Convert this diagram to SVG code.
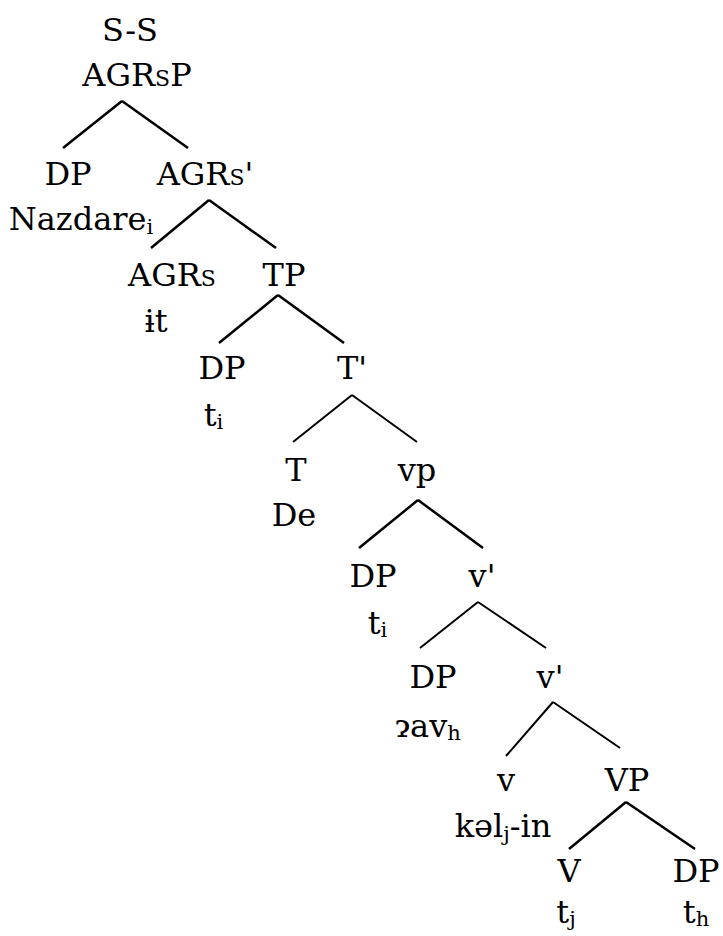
<svg xmlns="http://www.w3.org/2000/svg" width="723" height="936" viewBox="0 0 723 936">
<style>
  .lbl text { font-family: "DejaVu Serif", "Liberation Serif", serif; font-size: 32px; fill: #000; text-anchor: middle; }
  .sc { font-variant: small-caps; }
  .sub { font-size: 21px; }
  line { stroke: #000; stroke-linecap: butt; }
  .thick { stroke-width: 2.5; }
  .thin { stroke-width: 2; }
</style>
<rect width="723" height="936" fill="#fff"/>
<g id="connectors">
  <line class="thick" x1="122" y1="101" x2="63" y2="148"/>
  <line class="thick" x1="122" y1="101" x2="188" y2="148"/>
  <line class="thick" x1="209" y1="200" x2="151" y2="248"/>
  <line class="thick" x1="209" y1="200" x2="276" y2="248"/>
  <line class="thick" x1="278" y1="295" x2="219" y2="343"/>
  <line class="thick" x1="278" y1="295" x2="344" y2="343"/>
  <line class="thin" x1="352" y1="395" x2="293" y2="442"/>
  <line class="thin" x1="352" y1="395" x2="417" y2="442"/>
  <line class="thick" x1="418" y1="500" x2="359" y2="548"/>
  <line class="thick" x1="418" y1="500" x2="483" y2="548"/>
  <line class="thin" x1="478" y1="602" x2="420" y2="648"/>
  <line class="thin" x1="478" y1="602" x2="546" y2="648"/>
  <line class="thin" x1="553" y1="702" x2="506" y2="756"/>
  <line class="thin" x1="553" y1="702" x2="620" y2="748"/>
  <line class="thick" x1="626" y1="802" x2="569" y2="849"/>
  <line class="thick" x1="626" y1="802" x2="695" y2="849"/>
</g>
<g class="lbl">
  <g id="n-root"><text x="130" y="41">S-S</text><text x="137" y="86">AGR<tspan class="sc">s</tspan>P</text></g>
  <g id="n-dp1"><text x="68" y="185">DP</text><text x="81" y="230">Nazdare<tspan class="sub" dy="4">i</tspan></text></g>
  <g id="n-agrsbar"><text x="205" y="185">AGR<tspan class="sc">s</tspan>'</text></g>
  <g id="n-agrs"><text x="172" y="286">AGR<tspan class="sc">s</tspan></text><text x="156" y="332">ɨt</text></g>
  <g id="n-tp"><text x="284" y="286">TP</text></g>
  <g id="n-dp2"><text x="222" y="379">DP</text><text x="213.5" y="426">t<tspan class="sub" dy="3">i</tspan></text></g>
  <g id="n-tbar"><text x="352" y="379">T'</text></g>
  <g id="n-t"><text x="296" y="481">T</text><text x="294" y="526">De</text></g>
  <g id="n-vp"><text x="417" y="481">vp</text></g>
  <g id="n-dp3"><text x="373" y="587">DP</text><text x="377.5" y="634">t<tspan class="sub" dy="3">i</tspan></text></g>
  <g id="n-vbar1"><text x="482" y="587">v'</text></g>
  <g id="n-dp4"><text x="433" y="688">DP</text><text x="428" y="737">ɂav<tspan class="sub" dy="3">h</tspan></text></g>
  <g id="n-vbar2"><text x="550" y="688">v'</text></g>
  <g id="n-v"><text x="506" y="791">v</text><text x="503" y="837">kəl<tspan class="sub" dy="4">j</tspan><tspan dy="-4">-in</tspan></text></g>
  <g id="n-VP"><text x="627" y="791">VP</text></g>
  <g id="n-V"><text x="569" y="882">V</text><text x="566" y="923">t<tspan class="sub" dy="3">j</tspan></text></g>
  <g id="n-dp5"><text x="696" y="882">DP</text><text x="696" y="923">t<tspan class="sub" dy="3">h</tspan></text></g>
</g>
</svg>
